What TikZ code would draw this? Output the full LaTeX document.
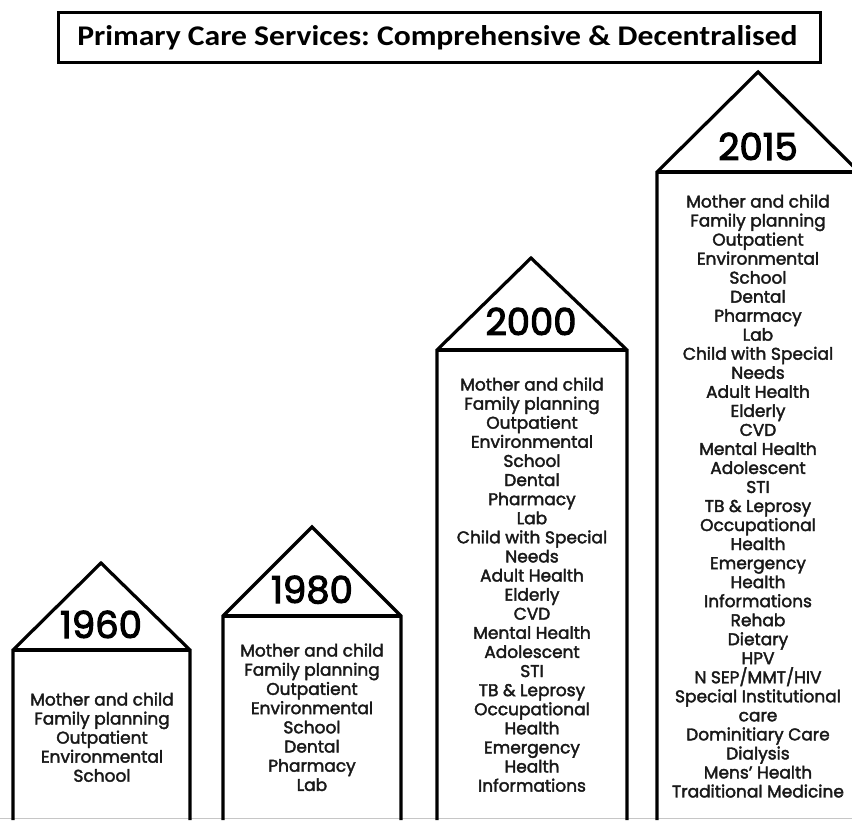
\documentclass[tikz,border=0pt]{standalone}
\usepackage{fontspec}
\newfontfamily\titlefont{Carlito}
\newfontfamily\bodyfont{Poppins}[FakeBold=2.2]
\newfontfamily\yearfont{Poppins}[FakeBold=3]
\frenchspacing
\tikzset{
  house/.style={draw=black, line width=3.2pt, line join=miter, line cap=butt},
  eave/.style={draw=black, line width=3.2pt},
  svc/.style={font=\bodyfont\fontsize{17}{19}\selectfont, inner sep=0pt, anchor=base, text=black!90},
  year/.style={font=\yearfont\fontsize{37}{40}\selectfont, inner sep=0pt, anchor=base},
  titlebox/.style={draw=black, line width=3pt},
  titletext/.style={font=\titlefont\bfseries\fontsize{28.5}{30}\selectfont, inner sep=0pt, anchor=base}
}
\begin{document}
\begin{tikzpicture}[x=1pt,y=-1pt]
\useasboundingbox (0,0) rectangle (852,820);
\fill[white] (0,0) rectangle (852,820);
\begin{scope}
\clip (0,0) rectangle (852,820);
% title
\draw[titlebox] (58,12.5) rectangle (820,62);
\node[titletext] (title) at (437.5,45.5) {\scalebox{1.11}[1]{Primary Care Services: Comprehensive \& Decentralised}};
% bottom line
\draw[gray!45, line width=1pt] (0,818.5) -- (852,818.5);
% houses
\draw[house] (13,820) -- (13,650) -- (101,563) -- (190,650) -- (190,820);
\draw[eave] (13,650) -- (190,650);
\draw[house] (223,820) -- (223,616) -- (312,527) -- (401,616) -- (401,820);
\draw[eave] (223,616) -- (401,616);
\draw[house] (437,820) -- (437,350) -- (531,258) -- (627,350) -- (627,820);
\draw[eave] (437,350) -- (627,350);
\draw[house] (657,820) -- (657,172) -- (758,72) -- (859,172) -- (859,820);
\draw[eave] (657,172) -- (859,172);
\end{scope}
% years
\node[year] (y1960) at (101,638) {1960};
\node[year] (y1980) at (312,603) {1980};
\node[year] (y2000) at (531,335) {2000};
\node[year] (y2015) at (758,160) {2015};
% services
\foreach \t [count=\i from 0] in {Mother and child, Family planning, Outpatient, Environmental, School}
  \node[svc] (a\i) at (102,705.5+19.05*\i) {\t};
\foreach \t [count=\i from 0] in {Mother and child, Family planning, Outpatient, Environmental, School, Dental, Pharmacy, Lab}
  \node[svc] (b\i) at (312,656.5+19.2*\i) {\t};
\foreach \t [count=\i from 0] in {Mother and child, Family planning, Outpatient, Environmental, School, Dental, Pharmacy, Lab, Child with Special, Needs, Adult Health, Elderly, CVD, Mental Health, Adolescent, STI, TB \& Leprosy, Occupational, Health, Emergency, Health, Informations}
  \node[svc] (c\i) at (532,390.5+19.1*\i) {\t};
\foreach \t [count=\i from 0] in {Mother and child, Family planning, Outpatient, Environmental, School, Dental, Pharmacy, Lab, Child with Special, Needs, Adult Health, Elderly, CVD, Mental Health, Adolescent, STI, TB \& Leprosy, Occupational, Health, Emergency, Health, Informations, Rehab, Dietary, HPV, N SEP/MMT/HIV, Special Institutional, care, Dominitiary Care, Dialysis, Mens’ Health, Traditional Medicine}
  \node[svc] (d\i) at (758,207.5+19.03*\i) {\t};
\end{tikzpicture}
\end{document}
